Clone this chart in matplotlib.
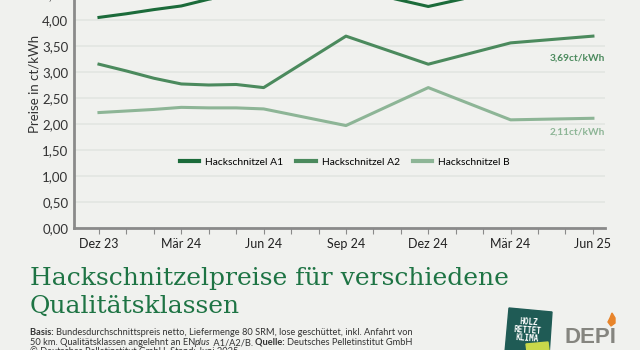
import matplotlib
matplotlib.use("Agg")
import matplotlib.pyplot as plt
from matplotlib.patches import Polygon
import numpy as np

# ==========================
# DADOS
# ==========================
monate = ["Dez 23", "Jan 24", "Feb 24", "Mär 24", "Apr 24", "Mai 24", "Jun 24",
          "Jul 24", "Aug 24", "Sep 24", "Okt 24", "Nov 24", "Dez 24",
          "Jan 25", "Feb 25", "Mär 24", "Apr 25", "Mai 25", "Jun 25"]
tick_idx = [0, 3, 6, 9, 12, 15, 18]

# Messpunkte (monatlich bis Jun 24, danach quartalsweise)
mess_idx = [0, 1, 2, 3, 4, 5, 6, 9, 12, 15, 18]
preis_a1 = [4.05, 4.12, 4.20, 4.27, 4.40, 4.48, 4.55, 4.62, 4.26, 4.61, 4.80]
preis_a2 = [3.15, 3.02, 2.88, 2.77, 2.75, 2.76, 2.70, 3.69, 3.15, 3.56, 3.69]
preis_b = [2.22, 2.25, 2.28, 2.32, 2.31, 2.31, 2.29, 1.97, 2.70, 2.08, 2.11]

namen = ["Hackschnitzel A1", "Hackschnitzel A2", "Hackschnitzel B"]
farben = ["#1b6b3a", "#4b8a5d", "#8db596"]
end_labels = {1: "3,69ct/kWh", 2: "2,11ct/kWh"}
label_pos = {1: 3.27, 2: 1.85}

bg = "#f0f1ee"
plt.rcParams["font.family"] = ["Lato", "DejaVu Sans"]

fig = plt.figure(figsize=(6.4, 3.5), dpi=100, facecolor=bg)
W, H = 640, 350

# Achse (oben abgeschnitten wie im Original)
ax = fig.add_axes([74 / W, 122 / H, 531 / W, 260 / H])
ax.set_facecolor(bg)
ax.set_ylim(0, 5)
ax.set_xlim(-0.91, 18.44)

yt = np.arange(0, 5.01, 0.5)
ax.set_yticks(yt)
ax.set_yticklabels([f"{v:.2f}".replace(".", ",") for v in yt], fontsize=9.5, color="#333333")
ax.tick_params(axis="y", length=0, pad=4)
ax.yaxis.grid(True, color="#e2e5e1", linewidth=1.2)
ax.set_axisbelow(True)

ax.set_xticks(range(len(monate)), labels=[""] * len(monate), minor=True)
ax.set_xticks(tick_idx, labels=[monate[i] for i in tick_idx], fontsize=9, color="#222222")
ax.tick_params(axis="x", which="both", length=4, width=0.8, color="#8a8a8a", pad=3)

for s in ["top", "right"]:
    ax.spines[s].set_visible(False)
for s in ["left", "bottom"]:
    ax.spines[s].set_color("#8a8a8a")
    ax.spines[s].set_linewidth(2)

for i, werte in enumerate([preis_a1, preis_a2, preis_b]):
    ax.plot(mess_idx, werte, color=farben[i], linewidth=2.2, label=namen[i])
    if i in end_labels:
        ax.text(18.44, label_pos[i], end_labels[i], ha="right", va="center",
                fontsize=7.3, fontweight="bold", color=farben[i])

ax.set_ylabel("Preise in ct/kWh", fontsize=9.5, color="#333333")
ax.yaxis.set_label_coords(-0.064, 0.554)

leg = ax.legend(loc="center", bbox_to_anchor=(0.51, 1.27 / 5), ncol=3, frameon=False,
                fontsize=7.4, handlelength=1.9, handletextpad=0.6, columnspacing=1.25)
for h in leg.get_lines():
    h.set_linewidth(3)

# ==========================
# TITEL + FUSSNOTE
# ==========================
fig.text(30 / W, 1 - 285 / H, "Hackschnitzelpreise für verschiedene",
         family="DejaVu Serif", fontsize=18, color="#1e7444", va="baseline")
fig.text(30 / W, 1 - 313 / H, "Qualitätsklassen",
         family="DejaVu Serif", fontsize=18, color="#1e7444", va="baseline")

renderer = fig.canvas.get_renderer()


def zeile(y, teile):
    x = 30
    for txt, stil in teile:
        t = fig.text(x / W, 1 - y / H, txt, fontsize=6.7, color="#333333", va="baseline",
                     fontweight="bold" if stil == "b" else "normal",
                     fontstyle="italic" if stil == "i" else "normal")
        x += t.get_window_extent(renderer).width


zeile(335, [("Basis: ", "b"),
            ("Bundesdurchschnittspreis netto, Liefermenge 80 SRM, lose geschüttet, inkl. Anfahrt von", "")])
zeile(345, [("50 km. Qualitätsklassen angelehnt an EN", ""), ("plus", "i"), (" A1/A2/B. ", ""),
            ("Quelle: ", "b"), ("Deutsches Pelletinstitut GmbH", "")])
zeile(355, [("© Deutsches Pelletinstitut GmbH, Stand: Juni 2025", "")])

# ==========================
# LOGOS
# ==========================
lax = fig.add_axes([490 / W, 0, 150 / W, 55 / H])
lax.set_xlim(490, 640)
lax.set_ylim(350, 295)
lax.axis("off")
lax.add_patch(Polygon([[509, 308], [552, 312], [549, 356], [505, 352]],
                      closed=True, color="#1f5b55"))
lax.text(528, 330, "HOLZ\nRETTET\nKLIMA", ha="center", va="center", fontsize=5.5,
         fontweight="bold", color="white", family="DejaVu Sans Mono", linespacing=0.9,
         rotation=-4)
lax.add_patch(Polygon([[526, 344], [548, 342], [549, 350], [527, 352]],
                      closed=True, color="#c8d94a"))
lax.text(565, 343, "DEPI", fontsize=16, fontweight="bold", color="#85857f",
         va="baseline", family="Liberation Sans")
lax.add_patch(Polygon([[612, 313], [615, 318], [615, 323], [611, 326], [608, 322], [610, 318]],
                      closed=True, color="#e8842a"))

fig.savefig("out.png", dpi=100, facecolor=bg)
